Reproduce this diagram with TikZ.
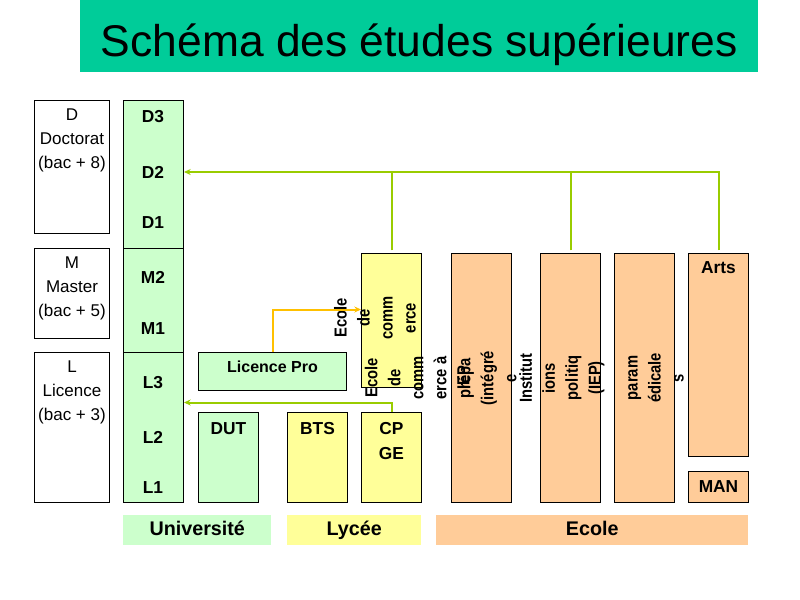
\documentclass[tikz,border=0pt]{standalone}
\usepackage{fontspec}
\setmainfont{Liberation Sans}
\newfontfamily\narrowsans[FakeStretch=0.85]{Liberation Sans}
\usetikzlibrary{positioning,arrows.meta}

\definecolor{titlegreen}{RGB}{0,204,153}
\definecolor{unigreen}{RGB}{204,255,204}
\definecolor{lycyellow}{RGB}{255,255,153}
\definecolor{ecoorange}{RGB}{255,204,153}
\definecolor{linkgreen}{RGB}{153,204,0}
\definecolor{linkgold}{RGB}{255,192,0}

\begin{document}
\begin{tikzpicture}[x=0.75pt, y=-0.75pt, node distance=4pt,
    box/.style={draw, line width=0.75pt, anchor=north west, inner sep=0pt, minimum width=45pt},
    uni/.style={box, fill=unigreen},
    lyc/.style={box, fill=lycyellow},
    eco/.style={box, fill=ecoorange},
    tag/.style={anchor=north west, inner sep=0pt, minimum height=22.5pt, text height=10.5pt, text depth=3pt,
                font=\bfseries\fontsize{14.8}{17}\selectfont},
    lab/.style={align=center, inner sep=0pt, font=\fontsize{12.75}{18}\selectfont},
    year/.style={inner sep=0pt, font=\bfseries\fontsize{13}{15}\selectfont},
    side/.style={rotate=90, align=center, inner sep=0pt, font=\narrowsans\bfseries\fontsize{13}{17.25}\selectfont},
    link/.style={draw=linkgreen, line width=1.5pt},
    tip/.style={-{Stealth[length=5pt,width=4.5pt]}}]

  \useasboundingbox (0,0) rectangle (800,600);

  \node[fill=titlegreen, anchor=north west, inner sep=0pt, minimum width=508.5pt, minimum height=54pt] (title) at (80,0) {};
  \node[inner sep=0pt, font=\fontsize{33.3}{40}\selectfont] at ([yshift=-6pt]title.center) {Schéma des études supérieures};

  % niveaux
  \node[box, minimum width=56.25pt, minimum height=99.75pt] (dbox) at (34,100) {};
  \node[box, minimum width=56.25pt, minimum height=67.5pt] (mbox) at (34,248) {};
  \node[box, minimum width=56.25pt, minimum height=112.5pt] (lbox) at (34,352) {};
  \node[lab, below=6.5pt of dbox.north] {D\\Doctorat\\(bac + 8)};
  \node[lab, below=6.5pt of mbox.north] {M\\Master\\(bac + 5)};
  \node[lab, below=6.5pt of lbox.north] {L\\Licence\\(bac + 3)};

  % universite
  \node[uni, minimum height=111pt] (dcol) at (123,100) {};
  \node[uni, minimum height=78pt] (mcol) at (123,248) {};
  \node[uni, minimum height=112.5pt] (lcol) at (123,352) {};
  \foreach \n/\y in {D3/117,D2/172,D1/223,M2/277,M1/329,L3/383,L2/437,L1/488}
    \node[year] (\n) at (153,\y) {\n};

  \node[uni, minimum width=111pt, minimum height=28.5pt, text height=9pt, text depth=7pt,
        font=\bfseries\fontsize{12}{14}\selectfont] (lpro) at (198,352) {Licence Pro};
  \node[uni, minimum height=67.5pt] (dut) at (198,412) {};
  \node[lyc, minimum height=67.5pt] (bts) at (287,412) {};
  \node[lyc, minimum height=67.5pt] (cpge) at (361,412) {};
  \node[lyc, minimum height=100.5pt] (com) at (361,253) {};
  \node[year, below=7.5pt of dut.north] {DUT};
  \node[year, below=7.5pt of bts.north] {BTS};
  \node[year, align=center, font=\bfseries\fontsize{13}{18.75}\selectfont, below=7.5pt of cpge.north] {CP\\GE};

  % ecoles
  \node[eco, minimum height=186.75pt] (prep) at (451,253) {};
  \node[eco, minimum height=186.75pt] (iep) at (540,253) {};
  \node[eco, minimum height=186.75pt] (para) at (614,253) {};
  \node[eco, minimum height=152.25pt] (arts) at (688,253) {};
  \node[eco, minimum height=23.25pt, font=\bfseries\fontsize{13}{15}\selectfont] (man) at (688,471) {MAN};
  \node[year, below=6.5pt of arts.north] {Arts};

  % textes couches
  \node[side] (t1) at (375,318) {Ecole\\de\\comm\\erce};
  \node[side] (t2) at (417,378) {Ecole\\de\\comm\\erce à\\IEP};
  \node[side] (t3) at (487,378) {prépa\\(intégré\\e};
  \node[side] (t4) at (562,378) {Institut\\ions\\politiq\\(IEP)};
  \node[side] (t5) at (656,378) {param\\édicale\\s};

  % legende
  \node[tag, fill=unigreen, minimum width=111pt] (tuni) at (123,515) {Université};
  \node[tag, fill=lycyellow, minimum width=100.5pt] (tlyc) at (287,515) {Lycée};
  \node[tag, fill=ecoorange, minimum width=234pt] (teco) at (436,515) {Ecole};

  % liens
  \draw[link, tip, shorten <=2pt] (arts.north) |- (D2 -| dcol.east);
  \draw[link, shorten <=2pt] (com.north) -- (com.north |- D2);
  \draw[link, shorten <=2pt] (iep.north) -- (iep.north |- D2);
  \draw[link, tip] (cpge.north) |- ([yshift=18.75pt]lcol.east);
  \draw[draw=linkgold, line width=1.5pt, tip] (lpro.north) |- ([yshift=8.25pt]com.west);
\end{tikzpicture}
\end{document}
